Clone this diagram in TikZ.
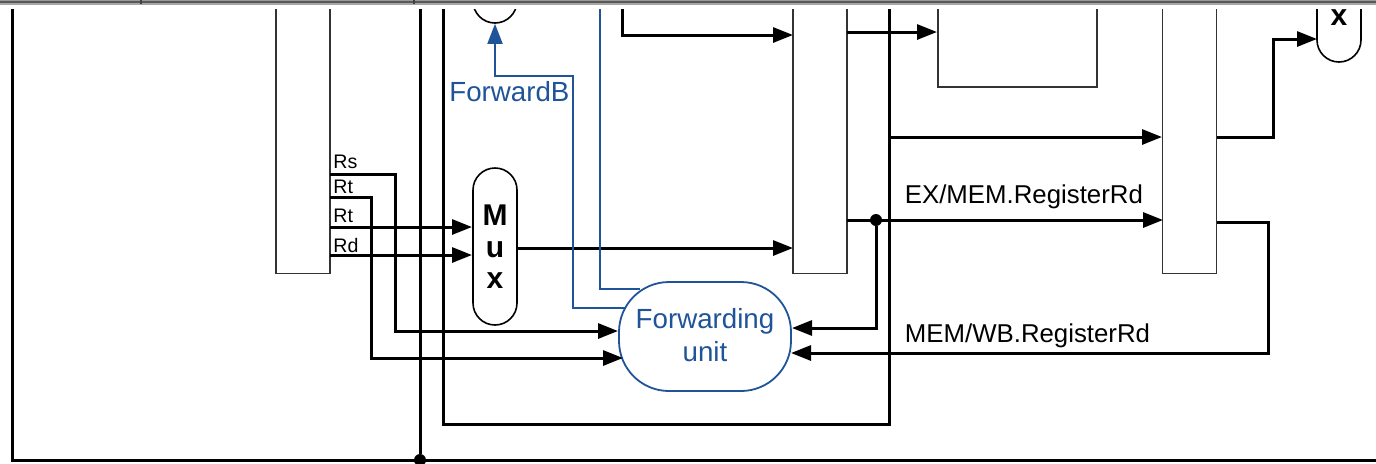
\documentclass[tikz,border=0pt]{standalone}
\usepackage{fontspec}
\setmainfont{Liberation Sans}
\usetikzlibrary{arrows.meta}
\definecolor{fwdblue}{HTML}{1F5499}
\tikzset{
  wire/.style={draw=black, line width=1.5pt},
  arrowwire/.style={wire, -{Triangle[length=10pt,width=7.5pt]}},
  ctrl/.style={draw=fwdblue, line width=0.9pt},
  latch/.style={rectangle, draw=black!80, line width=0.9pt, fill=white, minimum width=27pt, inner sep=0pt},
  muxbox/.style={rectangle, rounded corners=11pt, draw=black, line width=0.8pt, fill=white, minimum width=22pt, inner sep=0pt},
  dot/.style={circle, fill=black, minimum size=6pt, inner sep=0pt},
  bluetext/.style={text=fwdblue, font=\fontsize{13.85}{16.5}\selectfont, inner sep=0pt},
  blacktext/.style={font=\fontsize{12.9}{15}\selectfont, inner sep=0pt},
  smalltext/.style={font=\fontsize{9.8}{12}\selectfont, inner sep=0pt},
  muxtext/.style={font=\fontsize{15}{18}\selectfont\bfseries, inner sep=0pt}
}
\begin{document}
\begin{tikzpicture}[x=0.5pt,y=-0.5pt]
\useasboundingbox (0,0) rectangle (1376,463);
\begin{scope}
\clip (0,0) rectangle (1376,463);
% latches and boxes run past the top edge
\node [latch, minimum height=150pt] (idex) at (303,123.5) {};
\node [latch, minimum height=150pt] (exmem) at (820,123.5) {};
\node [latch, minimum height=150pt] (memwb) at (1189.5,123.5) {};
\node [rectangle, draw=black!80, line width=0.9pt, minimum width=79.5pt, minimum height=60pt, inner sep=0pt] (alu) at (1017.5,27) {};
\node [muxbox, minimum height=50pt] (muxtop) at (495,-27) {};
\node [muxbox, minimum height=78.5pt] (muxb) at (495,246.5) {};
\node [muxbox, minimum height=60pt] (muxwb) at (1339,2) {};
\node [muxtext] (xwb) at (1339,18) {x};
\node [muxtext] (m) at (495,215) {M};
\node [muxtext] (u) at (495,250) {u};
\node [muxtext] (x) at (495,281) {x};
\node [rectangle, rounded corners=25pt, draw=fwdblue, line width=0.9pt, fill=white, minimum width=86pt, minimum height=54.5pt, inner sep=0pt] (fwd) at (705,336.5) {};
\node [bluetext, align=center] (fwdtext) at (705,335.5) {Forwarding\\unit};
% free ends
\coordinate (top12) at (12,-5);
\coordinate (top420) at (420,-5);
\coordinate (top443) at (443,-5);
\coordinate (top889) at (889,-5);
\coordinate (top600) at (600,-5);
\coordinate (top622) at (622,-5);
\coordinate (edge) at (1380,460);
\coordinate (fwdrs) at (618,331);
\coordinate (fwdrt) at (623,358);
\coordinate (fwdex) at (792,328);
\coordinate (fwdmem) at (791,353);
% black wires
\draw [wire] (top12) |- (edge);
\node [dot] (bottomdot) at (420,460) {};
\draw [wire] (top420) -- (bottomdot);
\draw [wire] (top443) |- (889,424) -- (top889);
\draw [arrowwire] (top622) |- (793,35);
\draw [arrowwire] (847,32) -- (937,32);
\draw [arrowwire] (889,137) -- (1162,137);
\draw [arrowwire] (1217,137) -| (1273,39) -- (1317,39);
\draw [arrowwire] (330,174) -| (395,331) -- (fwdrs);
\draw [arrowwire] (330,197) -| (371,358) -- (fwdrt);
\draw [arrowwire] (330,227) -- (472,227);
\draw [arrowwire] (330,255) -- (472,255);
\draw [arrowwire] (muxb.east |- 0,248) -- (793,248);
\draw [arrowwire] (847,220) -- (1163,220);
\node [dot] (exdot) at (876,220) {};
\draw [arrowwire] (exdot) |- (fwdex);
\draw [arrowwire] (1217,222) -| (1268,353) -- (fwdmem);
% blue control
\draw [ctrl, -{Triangle[length=10pt,width=7.5pt]}] (625,308) -| (573,76) -| (muxtop.south);
\draw [ctrl] (top600) |- (640,289);
\end{scope}
% labels
\node [bluetext, anchor=west] (fwdb) at (449,92) {ForwardB};
\node [blacktext, anchor=west] (exlabel) at (904.5,197) {EX/MEM.RegisterRd};
\node [blacktext, anchor=west] (memlabel) at (904.5,336) {MEM/WB.RegisterRd};
\node [smalltext, anchor=west] (rs) at (333,162) {Rs};
\node [smalltext, anchor=west] (rt) at (333,187) {Rt};
\node [smalltext, anchor=west] (rtb) at (333,216) {Rt};
\node [smalltext, anchor=west] (rd) at (333,245) {Rd};
% window bar
\fill [white] (0,0) rectangle (1376,9);
\fill [black!40] (0,0) rectangle (1376,1);
\fill [black!65] (0,1) rectangle (1376,3);
\fill [black!35] (0,3) rectangle (1376,5);
\draw [black!75, line width=0.7pt] (141,0) -- (141,4);
\draw [black!75, line width=0.7pt] (414,0) -- (414,4);
\end{tikzpicture}
\end{document}
